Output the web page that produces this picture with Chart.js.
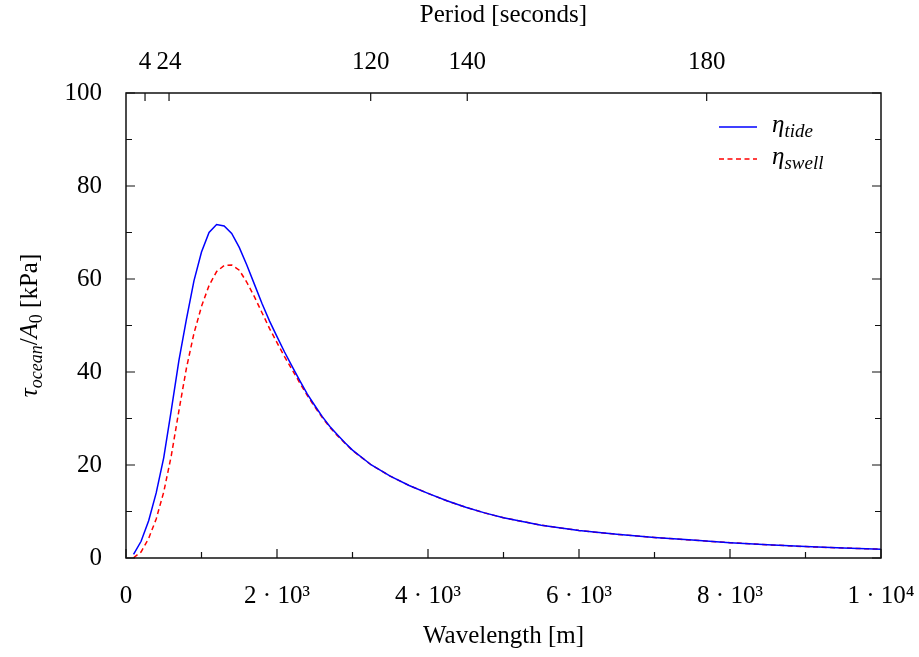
<!DOCTYPE html>
<html><head><meta charset="utf-8">
<script src="https://cdn.jsdelivr.net/npm/chart.js@4/dist/chart.umd.min.js"></script>
<style>html,body{margin:0;padding:0;background:#fff}</style>
</head><body>
<canvas id="c" width="919" height="657"></canvas>
<script>
// ---- data ----
const wavelengths = [100,200,300,400,500,600,700,800,900,1000,1100,1200,1300,1400,1500,1600,1700,1800,1900,2000,2100,2200,2300,2400,2500,2600,2700,2800,2900,3000,3250,3500,3750,4000,4250,4500,4750,5000,5500,6000,6500,7000,7500,8000,8500,9000,9500,10000];
const etaTide  = [0.8,3.6,8.0,14.0,21.6,31.8,42.4,51.3,59.6,65.8,70.0,71.7,71.4,69.8,66.8,63.0,58.9,54.8,51.0,47.6,44.3,41.2,38.2,35.3,32.8,30.4,28.3,26.5,24.8,23.2,20.0,17.6,15.6,13.9,12.3,10.9,9.7,8.65,7.05,5.9,5.1,4.4,3.85,3.3,2.85,2.45,2.15,1.9];
const etaSwell = [0.05,1.3,4.2,8.4,14.2,22.0,31.6,40.8,48.3,54.1,58.6,61.6,62.9,63.0,61.9,59.3,56.2,52.8,49.4,46.3,43.3,40.5,37.7,35.0,32.5,30.2,28.1,26.3,24.7,23.1,20.0,17.6,15.6,13.9,12.3,10.9,9.7,8.65,7.05,5.9,5.1,4.4,3.85,3.3,2.85,2.45,2.15,1.9];
const xMajorTicks = [0,2000,4000,6000,8000,10000];
const xTickLabels = ['0','2 · 10³','4 · 10³','6 · 10³','8 · 10³','1 · 10⁴'];
const xMinorTicks = [1000,3000,5000,7000,9000];
const yMajorTicks = [0,20,40,60,80,100];
const yMinorTicks = [10,30,50,70,90];
const periodLabels = ['4','24','120','140','180'];
const periodWavelengths = [252,570,3241,4520,7691];

const FF = "'Liberation Serif', 'Times New Roman', serif";

function drawRich(ctx, parts, x, y, align) {
  let total = 0;
  parts.forEach(p => { ctx.font = p.f; p.w = ctx.measureText(p.t).width; total += p.w; });
  let cx = align === 'center' ? x - total / 2 : x;
  ctx.textAlign = 'left';
  ctx.textBaseline = 'alphabetic';
  parts.forEach(p => { ctx.font = p.f; ctx.fillText(p.t, cx, y + (p.dy || 0)); cx += p.w; });
}

const framePlugin = {
  id: 'frame',
  afterDraw(chart) {
    const ctx = chart.ctx;
    const {left, right, top, bottom} = chart.chartArea;
    const x = chart.scales.x, y = chart.scales.y;
    ctx.save();
    ctx.strokeStyle = '#111';
    ctx.lineWidth = 1.5;
    ctx.strokeRect(left, top, right - left, bottom - top);
    ctx.lineWidth = 1.2;
    ctx.beginPath();
    xMajorTicks.forEach(v => { const p = x.getPixelForValue(v); ctx.moveTo(p, bottom); ctx.lineTo(p, bottom - 9); });
    xMinorTicks.forEach(v => { const p = x.getPixelForValue(v); ctx.moveTo(p, bottom); ctx.lineTo(p, bottom - 6); });
    periodWavelengths.forEach(v => { const p = x.getPixelForValue(v); ctx.moveTo(p, top); ctx.lineTo(p, top + 8); });
    yMajorTicks.forEach(v => { const p = y.getPixelForValue(v);
      ctx.moveTo(left, p); ctx.lineTo(left + 9, p); ctx.moveTo(right, p); ctx.lineTo(right - 9, p); });
    yMinorTicks.forEach(v => { const p = y.getPixelForValue(v);
      ctx.moveTo(left, p); ctx.lineTo(left + 6, p); ctx.moveTo(right, p); ctx.lineTo(right - 6, p); });
    ctx.stroke();

    // legend
    const lx0 = right - 162, lx1 = right - 124, tx = right - 109;
    const ly1 = top + 34, ly2 = top + 66;
    ctx.lineWidth = 1.5;
    ctx.strokeStyle = '#0000ff';
    ctx.beginPath(); ctx.moveTo(lx0, ly1); ctx.lineTo(lx1, ly1); ctx.stroke();
    ctx.strokeStyle = '#ff0000';
    ctx.setLineDash([5, 3.5]);
    ctx.beginPath(); ctx.moveTo(lx0, ly2); ctx.lineTo(lx1, ly2); ctx.stroke();
    ctx.setLineDash([]);
    ctx.fillStyle = '#000';
    drawRich(ctx, [{t:'η', f:'italic 25px ' + FF}, {t:'tide', f:'italic 19px ' + FF, dy:5}], tx, ly1 + 5, 'left');
    drawRich(ctx, [{t:'η', f:'italic 25px ' + FF}, {t:'swell', f:'italic 19px ' + FF, dy:5}], tx, ly2 + 5, 'left');

    // y-axis title
    ctx.translate(37, (top + bottom) / 2);
    ctx.rotate(-Math.PI / 2);
    drawRich(ctx, [
      {t:'τ', f:'italic 25px ' + FF},
      {t:'ocean', f:'italic 18px ' + FF, dy:5},
      {t:'/', f:'25px ' + FF},
      {t:'A', f:'italic 25px ' + FF},
      {t:'0', f:'18px ' + FF, dy:5},
      {t:' [kPa]', f:'25px ' + FF}
    ], 0, 0, 'center');
    ctx.restore();
  }
};

const tickFont = {family: FF, size: 25};

new Chart(document.getElementById('c'), {
  type: 'line',
  data: {
    datasets: [
      { label: 'η tide', data: wavelengths.map((w, i) => ({x: w, y: etaTide[i]})),
        borderColor: '#0000ff', borderWidth: 1.5, pointRadius: 0, tension: 0, fill: false, xAxisID: 'x', yAxisID: 'y' },
      { label: 'η swell', data: wavelengths.map((w, i) => ({x: w, y: etaSwell[i]})),
        borderColor: '#ff0000', borderWidth: 1.5, borderDash: [5, 3.5], pointRadius: 0, tension: 0, fill: false, xAxisID: 'x', yAxisID: 'y' }
    ]
  },
  options: {
    responsive: false,
    devicePixelRatio: 1,
    animation: false,
    layout: { padding: { left: 0, right: 38, top: 0, bottom: 0 } },
    plugins: { legend: { display: false }, tooltip: { enabled: false } },
    scales: {
      x: {
        type: 'linear', position: 'bottom', min: 0, max: 10000,
        afterBuildTicks: s => { s.ticks = xMajorTicks.map(v => ({value: v})); },
        afterFit: s => { s.height = 99; s.paddingLeft = 0; s.paddingRight = 0; },
        grid: { display: false, drawTicks: false },
        border: { display: false },
        ticks: { font: tickFont, color: '#000', padding: 23, maxRotation: 0, autoSkip: false,
          callback: (v) => xTickLabels[xMajorTicks.indexOf(v)] },
        title: { display: true, text: 'Wavelength [m]', font: {family: FF, size: 25}, color: '#000', padding: {top: 0, bottom: 6} }
      },
      x2: {
        type: 'linear', position: 'top', min: 0, max: 10000,
        afterBuildTicks: s => { s.ticks = periodWavelengths.map(v => ({value: v})); },
        afterFit: s => { s.height = 93; s.paddingLeft = 0; s.paddingRight = 0; },
        grid: { display: false, drawTicks: false },
        border: { display: false },
        ticks: { font: tickFont, color: '#000', padding: 16, maxRotation: 0, minRotation: 0, autoSkip: false,
          callback: (v) => periodLabels[periodWavelengths.indexOf(v)] },
        title: { display: true, text: 'Period [seconds]', font: {family: FF, size: 25}, color: '#000', padding: {top: 0, bottom: 0} }
      },
      y: {
        type: 'linear', position: 'left', min: 0, max: 100,
        afterBuildTicks: s => { s.ticks = yMajorTicks.map(v => ({value: v})); },
        afterFit: s => { s.width = 126; s.paddingTop = 0; s.paddingBottom = 0; },
        grid: { display: false, drawTicks: false },
        border: { display: false },
        ticks: { font: tickFont, color: '#000', padding: 24 }
      }
    }
  },
  plugins: [framePlugin]
});
</script>
</body></html>
